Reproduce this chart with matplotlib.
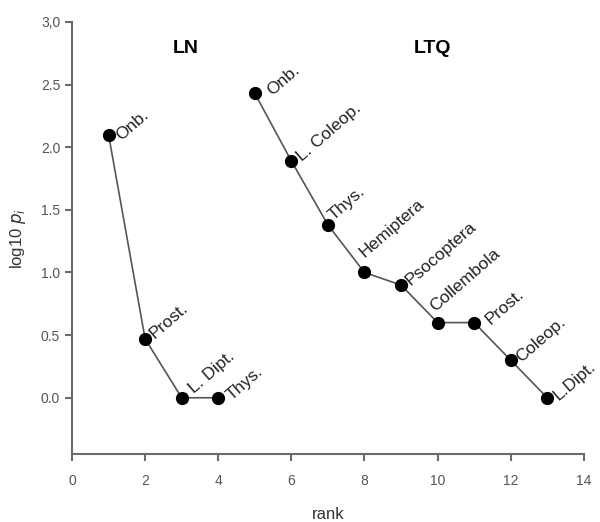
import matplotlib.pyplot as plt

plt.rcParams['font.family'] = ['Liberation Sans', 'DejaVu Sans']

# LN
ln_rank = [1, 2, 3, 4]
ln_val = [2.1, 0.47, 0.0, 0.0]
ln_lab = ['Onb.', 'Prost.', 'L. Dipt.', 'Thys.']
ln_off = [(10, -3), (7, 3), (9, 7), (10, 0)]

# LTQ
ltq_rank = [5, 6, 7, 8, 9, 10, 11, 12, 13]
ltq_val = [2.43, 1.89, 1.38, 1.0, 0.9, 0.6, 0.6, 0.3, 0.0]
ltq_lab = ['Onb.', 'L. Coleop.', 'Thys.', 'Hemiptera', 'Psocoptera',
           'Collembola', 'Prost.', 'Coleop.', 'L.Dipt.']
ltq_off = [(14, 1), (8, 3), (3, 8), (-3, 18), (7, 3), (-5, 14), (14, 1), (8, 1), (8, 0)]

yticks = [0.0, 0.5, 1.0, 1.5, 2.0, 2.5, 3.0]
ytick_lab = ['0.0', '0.5', '1.0', '1.5', '2.0', '2.5', '3,0']

fig = plt.figure(figsize=(6, 5.22), dpi=100)
ax = fig.add_axes([0.12, 0.13, 0.853, 0.828])

gray = '#6a6a6a'
for xs, ys, labs, offs in [(ln_rank, ln_val, ln_lab, ln_off),
                           (ltq_rank, ltq_val, ltq_lab, ltq_off)]:
    ax.plot(xs, ys, color='#555555', lw=1.2, marker='o', ms=8.5,
            mfc='black', mec='black', zorder=3)
    for x, y, t, o in zip(xs, ys, labs, offs):
        ax.annotate(t, (x, y), xytext=o, textcoords='offset pixels',
                    rotation=41, rotation_mode='anchor', ha='left', va='center',
                    fontsize=12.5, color='#222222')

ax.text(3.1, 2.79, 'LN', fontsize=14, fontweight='bold', ha='center', va='center')
ax.text(9.85, 2.79, 'LTQ', fontsize=14, fontweight='bold', ha='center', va='center')

ax.set_xlim(0, 14)
ax.set_ylim(-0.45, 3.0)
ax.set_xticks(range(0, 15, 2))
ax.set_yticks(yticks)
ax.set_yticklabels(ytick_lab)
for s in ['top', 'right']:
    ax.spines[s].set_visible(False)
for s in ['left', 'bottom']:
    ax.spines[s].set_color(gray)
    ax.spines[s].set_linewidth(1.5)
ax.tick_params(colors=gray, labelcolor='#555555', labelsize=10, width=1.5, length=5)
ax.tick_params(axis='x', pad=9)

ax.set_xlabel('rank', fontsize=12, color='#333333', labelpad=14)
ax.set_ylabel('log10 $p_i$', fontsize=12, color='#333333', labelpad=9)

fig.savefig('out.png')
